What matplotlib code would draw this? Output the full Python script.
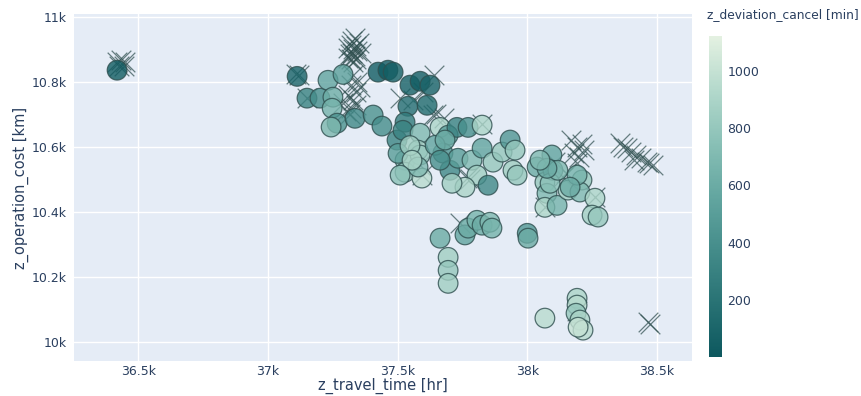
import matplotlib
matplotlib.use("Agg")
import matplotlib.pyplot as plt
from matplotlib.colors import LinearSegmentedColormap, Normalize
import numpy as np

# ---- data: circles (travel time, operation cost, deviation cancel) ----
circ_x = [36419, 37113, 37151, 37201, 37232, 37290, 37251, 37248, 37267, 37244,
          37336, 37406, 37440, 37425, 37463, 37483, 37548, 37587, 37625, 37540,
          37614, 37529, 37498, 37521, 37587, 37579, 37529, 37529, 37594, 37502,
          37587, 37579, 37664, 37695, 37729, 37772, 37826, 37675, 37702, 37733,
          37787, 37826, 37806, 37760, 37710, 37849, 37868, 37903, 37934, 37953,
          37945, 37961, 38038, 38095, 38068, 38099, 38076, 38068, 38115, 38157,
          38211, 38203, 38192, 38261, 38250, 38273, 38088, 38118, 38165, 38076,
          38049, 37645, 37664, 37683, 37548, 37556, 37510,
          37664, 37695, 37695, 37695, 37760, 37772, 37806, 37826, 37856, 37864,
          38000, 38003, 38068, 38192, 38192, 38188, 38203, 38215, 38196]
circ_y = [10836, 10817, 10750, 10750, 10805, 10823, 10753, 10719, 10673, 10661,
          10688, 10698, 10664, 10830, 10836, 10830, 10790, 10802, 10790, 10725,
          10728, 10676, 10621, 10651, 10642, 10590, 10559, 10522, 10504, 10580,
          10575, 10538, 10660, 10636, 10660, 10660, 10667, 10581, 10528, 10565,
          10559, 10596, 10513, 10476, 10488, 10482, 10553, 10584, 10621, 10590,
          10528, 10513, 10538, 10575, 10491, 10528, 10457, 10414, 10420, 10467,
          10498, 10461, 10513, 10442, 10390, 10384, 10488, 10528, 10476, 10534,
          10559, 10605, 10559, 10621, 10604, 10559, 10513,
          10319, 10260, 10220, 10180, 10329, 10350, 10374, 10359, 10368, 10350,
          10334, 10319, 10073, 10134, 10113, 10088, 10067, 10036, 10045]
circ_c = [30, 80, 300, 380, 550, 520, 620, 650, 420, 680,
          350, 420, 380, 40, 20, 50, 60, 40, 70, 150,
          130, 250, 320, 300, 700, 850, 750, 820, 950, 500,
          800, 700, 900, 500, 300, 400, 900, 450, 350, 500,
          700, 550, 850, 900, 850, 350, 800, 800, 450, 800,
          850, 800, 600, 550, 800, 550, 700, 900, 650, 850,
          800, 700, 650, 900, 850, 800, 750, 700, 600, 600,
          700, 550, 400, 600, 850, 900, 750,
          600, 850, 800, 850, 550, 600, 650, 600, 700, 650,
          450, 600, 950, 900, 950, 800, 900, 950, 1000]

# ---- data: crosses (travel time, operation cost) ----
cross_x = [36420, 36435, 36450, 36445, 36425,
           37110, 37120, 37150,
           37310, 37320, 37330, 37340, 37315, 37325, 37335, 37345, 37320, 37330,
           37340, 37310, 37325, 37335, 37350, 37360,
           37330, 37345, 37320, 37340, 37310, 37330, 37320, 37340, 37300, 37315,
           37355, 37290,
           37510, 37560, 37640, 37600, 37650, 37680,
           37587, 37594, 37768, 37780, 37826, 37637, 38138, 38150, 38107, 38068,
           38261,
           38170, 38190, 38210, 38180, 38200, 38220, 38190,
           38357, 38370, 38385, 38400, 38420, 38440, 38460, 38485, 38410, 38470,
           38465, 38472, 38190, 37740]
cross_y = [10860, 10868, 10862, 10850, 10848,
           10825, 10820, 10752,
           10905, 10915, 10900, 10910, 10885, 10890, 10880, 10895, 10870, 10860,
           10870, 10875, 10925, 10935, 10920, 10890,
           10820, 10800, 10790, 10770, 10760, 10745, 10720, 10730, 10710, 10700,
           10785, 10735,
           10750, 10745, 10820, 10770, 10700, 10690,
           10545, 10513, 10503, 10500, 10670, 10697, 10506, 10520, 10553, 10414,
           10445,
           10620, 10600, 10610, 10580, 10570, 10590, 10550,
           10611, 10600, 10598, 10585, 10575, 10565, 10553, 10545, 10560, 10550,
           10060, 10055, 10095, 10365]

x_ticks = [36500, 37000, 37500, 38000, 38500]
x_labels = ["36.5k", "37k", "37.5k", "38k", "38.5k"]
y_ticks = [10000, 10200, 10400, 10600, 10800, 11000]
y_labels = ["10k", "10.2k", "10.4k", "10.6k", "10.8k", "11k"]
cbar_ticks = [200, 400, 600, 800, 1000]

mint = ["#0d585f", "#287274", "#448c8a", "#63a6a0", "#89c0b6", "#b4d9cc", "#e4f1e1"]
cmap = LinearSegmentedColormap.from_list("mint_r", mint)
norm = Normalize(vmin=1, vmax=1121)

txt = "#2a3f5f"
fig = plt.figure(figsize=(8.61, 3.96), dpi=100)
ax = fig.add_axes([74/861, 35/396, 618/861, 347/396])
ax.set_facecolor("#E5ECF6")
for s in ax.spines.values():
    s.set_visible(False)
ax.set_axisbelow(True)
ax.grid(True, color="white", linewidth=1)
ax.tick_params(length=0, colors=txt, labelsize=9)
ax.tick_params(axis="x", pad=3)
ax.tick_params(axis="y", pad=5)

ax.scatter(cross_x, cross_y, marker="x", s=200, linewidths=0.9,
           color="#2f4f4f", alpha=0.7, zorder=2)
ax.scatter(circ_x, circ_y, c=circ_c, cmap=cmap, norm=norm, s=200,
           edgecolors="#2f4f4f", linewidths=0.9, alpha=0.8, zorder=3)

ax.set_xlim(36253, 38635)
ax.set_ylim(9941, 11009)
ax.set_xticks(x_ticks)
ax.set_xticklabels(x_labels)
ax.set_yticks(y_ticks)
ax.set_yticklabels(y_labels)
ax.set_xlabel("z_travel_time [hr]", color=txt, fontsize=10.5, labelpad=0)
ax.set_ylabel("z_operation_cost [km]", color=txt, fontsize=10.5, labelpad=2)

cax = fig.add_axes([709/861, 39/396, 13/861, 321/396])
sm = matplotlib.cm.ScalarMappable(norm=norm, cmap=cmap)
cb = fig.colorbar(sm, cax=cax, ticks=cbar_ticks)
cb.outline.set_visible(False)
cax.tick_params(length=0, colors=txt, labelsize=9, pad=4)
fig.text(707/861, 1 - 15/396, "z_deviation_cancel [min]", color=txt,
         fontsize=8.8, va="center", ha="left")

fig.savefig("out.png", dpi=100)
